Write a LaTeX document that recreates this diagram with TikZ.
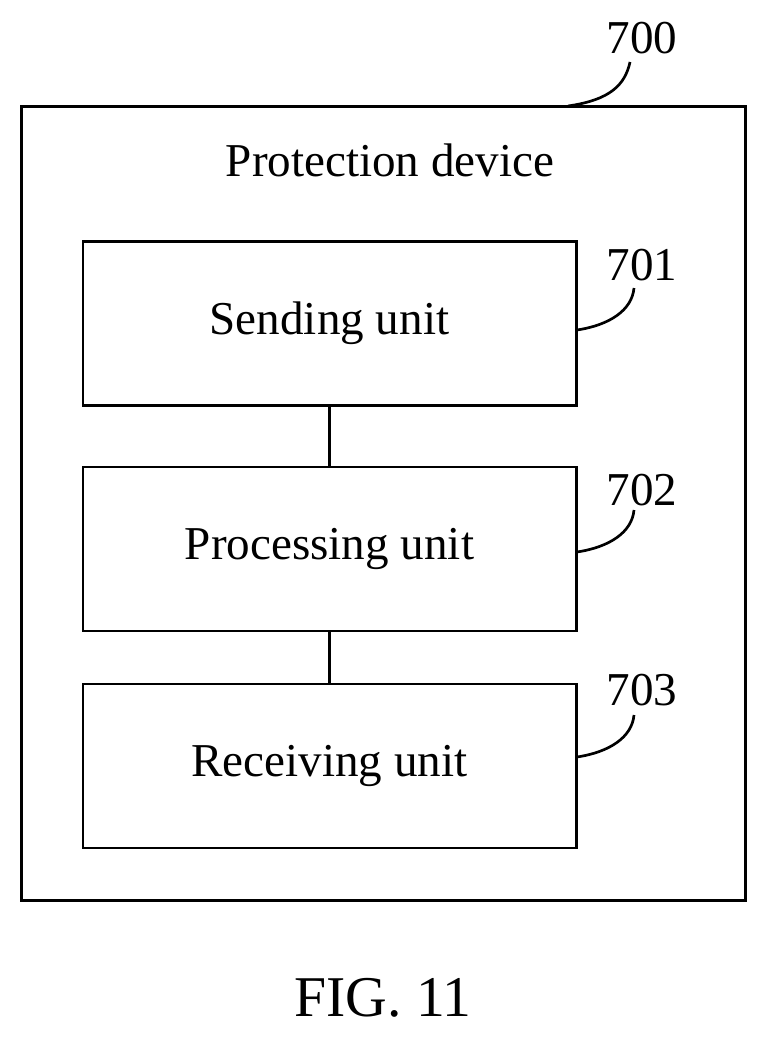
\documentclass[tikz,border=0pt]{standalone}
\usepackage{fontspec}
\setmainfont{Liberation Serif}
\begin{document}
\begin{tikzpicture}[x=0.025cm,y=-0.025cm,line width=1.9pt,
    unit/.style={draw,minimum width=12.33cm,minimum height=4.1cm,font=\fontsize{33.5}{36}\selectfont},
    num/.style={font=\fontsize{33.5}{36}\selectfont}]
        \useasboundingbox (0,0) rectangle (767,1039);
        \node[draw,minimum width=18.08cm,minimum height=19.83cm] (dev) at (383.5,503.5) {};
        \node[font=\fontsize{33.5}{36}\selectfont] (title) at (390,160) {Protection device};
        \node[unit] (send) at (329.5,323.5) {Sending unit};
        \node[unit] (proc) at (329.5,549) {Processing unit};
        \node[unit] (recv) at (329.5,766) {Receiving unit};
        \draw (send) -- (proc);
        \draw (proc) -- (recv);
        % reference numerals
        \node[num] (n700) at (642,38) {700};
        \node[num] (n701) at (642,265) {701};
        \node[num] (n702) at (642,490) {702};
        \node[num] (n703) at (642,690) {703};
        \coordinate (c700) at (568,106);
        \coordinate (c701) at (577,330);
        \coordinate (c702) at (577,552);
        \coordinate (c703) at (577,757);
        \draw (c700) .. controls (610,100) and (625,85) .. (630,62);
        \foreach \c/\y in {c701/330,c702/552,c703/757}
            \draw (\c) .. controls (610,\y-5) and (632,\y-20) .. (634,\y-42);
        \node[font=\fontsize{41}{44}\selectfont] (fig) at (383,998) {FIG. 11};
\end{tikzpicture}
\end{document}
